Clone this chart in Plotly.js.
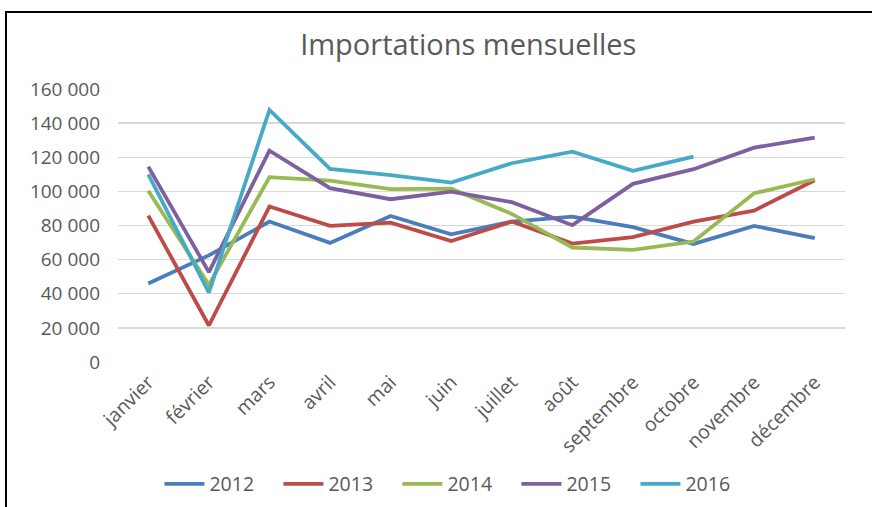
<!DOCTYPE html>
<html>
<head>
<meta charset="utf-8">
<script src="https://cdn.plot.ly/plotly-3.0.1.min.js"></script>
<style>
html,body{margin:0;padding:0;background:#fff;}
#wrap{position:relative;width:872px;height:507px;overflow:hidden;}
#chart{position:absolute;left:0;top:0;width:872px;height:507px;}
#frame{position:absolute;left:5px;top:11px;width:900px;height:520px;border-left:2px solid #000;border-top:2px solid #000;pointer-events:none;}
</style>
</head>
<body>
<div id="wrap"><div id="chart"></div><div id="frame"></div></div>
<script>
const months = ["janvier","février","mars","avril","mai","juin","juillet","août","septembre","octobre","novembre","décembre"];
const years = ["2012","2013","2014","2015","2016"];
const v2012 = [46000, 62500, 82300, 69800, 85600, 74800, 82300, 85200, 79000, 69200, 79800, 72600];
const v2013 = [85800, 21400, 91100, 79800, 81700, 70900, 82300, 69400, 73200, 82300, 88700, 106500];
const v2014 = [100400, 45200, 108300, 106300, 101300, 101600, 86800, 67100, 65700, 70600, 98900, 107100];
const v2015 = [114500, 52700, 123900, 101900, 95400, 99900, 93700, 80200, 104400, 113000, 125600, 131500];
const v2016 = [110000, 40700, 147700, 113200, 109500, 105100, 116500, 123300, 112000, 120400, null, null];
const colors = ["#4A7EBB","#BE4B48","#98B954","#7D60A0","#46AAC5"];
const series = [v2012, v2013, v2014, v2015, v2016];
const yTicks = [0,20000,40000,60000,80000,100000,120000,140000,160000];
const yTickText = ["0","20 000","40 000","60 000","80 000","100 000","120 000","140 000","160 000"];

const traces = series.map((vals, i) => ({
  type: "scatter", mode: "lines", name: years[i],
  x: months, y: vals,
  line: {color: colors[i], width: 3.8},
  connectgaps: false
}));

const font = "Open Sans, Noto Sans, sans-serif";
const layout = {
  width: 872, height: 507,
  margin: {l: 118, r: 27, t: 89, b: 145},
  paper_bgcolor: "#fff", plot_bgcolor: "#fff",
  title: {text: "Importations mensuelles", font: {family: font, size: 29, color: "#595959"}, x: 0.537, xanchor: "center", y: 0.912, yanchor: "middle"},
  font: {family: font, size: 18, color: "#595959"},
  xaxis: {
    type: "category", range: [-0.5, 11.5], tickangle: -45,
    showgrid: false, zeroline: false, showline: false, ticks: "",
    tickfont: {size: 19.5, color: "#595959"}, automargin: false, ticklabelstandoff: 4
  },
  yaxis: {
    range: [0, 160000], tickvals: yTicks, ticktext: yTickText,
    showgrid: true, gridcolor: "#D9D9D9", gridwidth: 1.3,
    zeroline: false, showline: false, ticks: "", ticklen: 0,
    tickfont: {size: 19, color: "#595959"}, automargin: false, ticklabelstandoff: 17
  },
  showlegend: true,
  legend: {orientation: "h", x: 0.524, xanchor: "center", xref: "container", y: 0.045, yanchor: "middle", yref: "container",
    font: {size: 19.5, color: "#595959"}, entrywidth: 64, entrywidthmode: "pixels", itemwidth: 40}
};
Plotly.newPlot("chart", traces, layout, {displayModeBar: false, staticPlot: true});
</script>
</body>
</html>
